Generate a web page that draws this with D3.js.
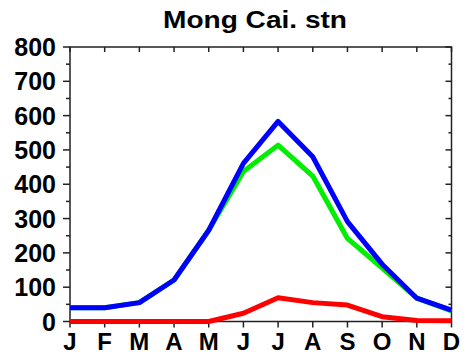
<!DOCTYPE html>
<html>
<head>
<meta charset="utf-8">
<script src="https://cdnjs.cloudflare.com/ajax/libs/d3/7.8.5/d3.min.js"></script>
<style>
  body { margin: 0; background: #fff; }
  text { font-family: "Liberation Sans", Arial, sans-serif; font-weight: bold; fill: #000; }
</style>
</head>
<body>
<svg id="chart" width="466" height="361"></svg>
<script>
var months = ["J", "F", "M", "A", "M", "J", "J", "A", "S", "O", "N", "D"];
var yTicks = [0, 100, 200, 300, 400, 500, 600, 700, 800];

// total (blue), green part, red part
var blueValues  = [40, 40, 55, 121, 266, 461, 583, 480, 291, 167, 68, 33];
var greenValues = [40, 40, 55, 121, 266, 437, 514, 424, 242, 156, 68, 31];
var redValues   = [0, 0, 0, 0, 0, 24, 69, 55, 48, 14, 3, 2];

var svg = d3.select("#chart");
var plotLeft = 70, plotRight = 451.5, plotTop = 47, plotBottom = 321.5;

var x = d3.scalePoint()
          .domain(d3.range(months.length))
          .range([plotLeft, plotRight]);

var y = d3.scaleLinear()
          .domain([0, 800])
          .range([plotBottom, plotTop]);

var minorTicks = d3.range(50, 800, 100);
var axisColor = "#222";

// title
svg.append("text")
    .attr("x", 255)
    .attr("y", 27.5)
    .attr("text-anchor", "middle")
    .attr("font-size", 24)
    .attr("textLength", 184)
    .attr("lengthAdjust", "spacingAndGlyphs")
    .text("Mong Cai. stn");

// frame
svg.append("rect")
    .attr("x", plotLeft)
    .attr("y", plotTop)
    .attr("width", plotRight - plotLeft)
    .attr("height", plotBottom - plotTop)
    .attr("fill", "none")
    .attr("stroke", axisColor)
    .attr("stroke-width", 1.5);

// left axis: ticks outside
var leftAxis = svg.append("g").attr("transform", "translate(" + plotLeft + ",0)");
leftAxis.selectAll(".major")
  .data(yTicks)
  .enter()
  .append("line")
    .attr("x1", -7).attr("x2", 0)
    .attr("y1", d => y(d)).attr("y2", d => y(d))
    .attr("stroke", axisColor).attr("stroke-width", 1.5);
leftAxis.selectAll(".minor")
  .data(minorTicks)
  .enter()
  .append("line")
    .attr("x1", -4).attr("x2", 0)
    .attr("y1", d => y(d)).attr("y2", d => y(d))
    .attr("stroke", axisColor).attr("stroke-width", 1.5);
leftAxis.selectAll("text")
  .data(yTicks)
  .enter()
  .append("text")
    .attr("x", -14)
    .attr("y", d => y(d) + 9)
    .attr("text-anchor", "end")
    .attr("font-size", 25)
    .text(d => d);

// right axis: ticks inside
var rightAxis = svg.append("g").attr("transform", "translate(" + plotRight + ",0)");
rightAxis.selectAll(".major")
  .data(yTicks)
  .enter()
  .append("line")
    .attr("x1", -6).attr("x2", 0)
    .attr("y1", d => y(d)).attr("y2", d => y(d))
    .attr("stroke", axisColor).attr("stroke-width", 1.5);
rightAxis.selectAll(".minor")
  .data(minorTicks)
  .enter()
  .append("line")
    .attr("x1", -3).attr("x2", 0)
    .attr("y1", d => y(d)).attr("y2", d => y(d))
    .attr("stroke", axisColor).attr("stroke-width", 1.5);

// top ticks inside, bottom ticks outside
svg.append("g").selectAll("line")
  .data(d3.range(months.length))
  .enter()
  .append("line")
    .attr("x1", d => x(d)).attr("x2", d => x(d))
    .attr("y1", plotTop).attr("y2", plotTop + 5)
    .attr("stroke", axisColor).attr("stroke-width", 1.5);
svg.append("g").selectAll("line")
  .data(d3.range(months.length))
  .enter()
  .append("line")
    .attr("x1", d => x(d)).attr("x2", d => x(d))
    .attr("y1", plotBottom).attr("y2", plotBottom + 6)
    .attr("stroke", axisColor).attr("stroke-width", 1.5);

svg.append("g").selectAll("text")
  .data(months)
  .enter()
  .append("text")
    .attr("x", (d, i) => x(i))
    .attr("y", 350)
    .attr("text-anchor", "middle")
    .attr("font-size", 24)
    .text(d => d);

var line = d3.line()
             .x((d, i) => x(i))
             .y(d => y(d));

var series = [
  { values: greenValues, color: "#00ee00" },
  { values: blueValues,  color: "#0000ff" },
  { values: redValues,   color: "#ff0000" }
];

svg.append("g").selectAll("path")
  .data(series)
  .enter()
  .append("path")
    .attr("d", d => line(d.values))
    .attr("fill", "none")
    .attr("stroke", d => d.color)
    .attr("stroke-width", 5)
    .attr("stroke-linejoin", "round");
</script>
</body>
</html>
